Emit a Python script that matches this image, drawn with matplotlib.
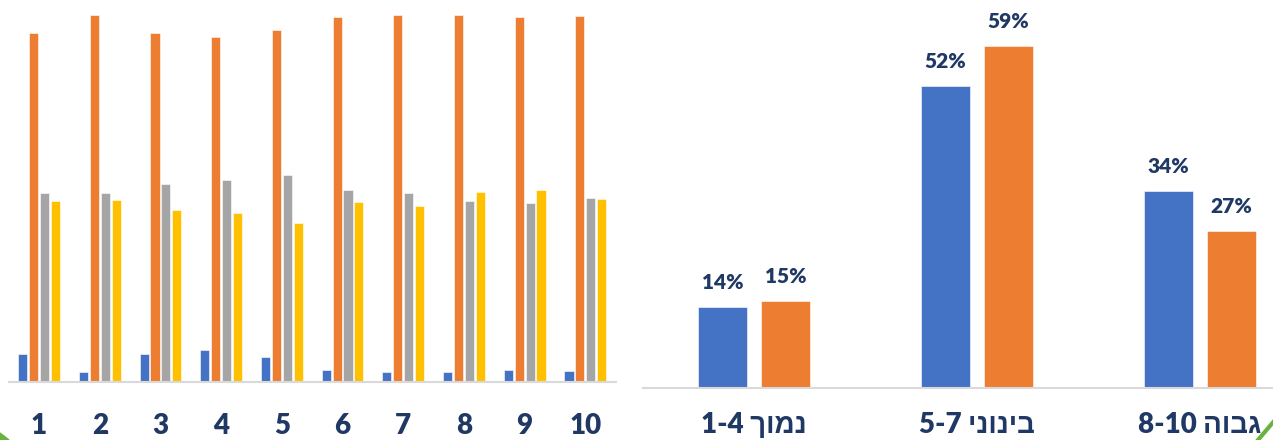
import numpy as np
import matplotlib.pyplot as plt
from matplotlib.patches import Polygon
from matplotlib.lines import Line2D

plt.rcParams['font.family'] = ['Lato', 'Liberation Sans', 'DejaVu Sans']

# left panel: scores 1-10, four series
scores = ['1', '2', '3', '4', '5', '6', '7', '8', '9', '10']
s_blue = [5.6, 2.0, 5.6, 6.4, 5.0, 2.4, 2.0, 2.0, 2.4, 2.2]
s_orange = [69.8, 73.4, 69.8, 69.0, 70.4, 73.0, 73.4, 73.4, 73.0, 73.2]
s_gray = [37.8, 37.8, 39.6, 40.4, 41.4, 38.4, 37.8, 36.2, 35.8, 36.8]
s_yellow = [36.2, 36.4, 34.4, 33.8, 31.8, 36.0, 35.2, 38.0, 38.4, 36.6]

# right panel: grouped ranges, two series (percent)
groups = ['נמוך 1-4', 'בינוני 5-7', 'גבוה 8-10']
g_blue = [14, 52, 34]
g_orange = [15, 59, 27]

BLUE = '#4472C4'
ORANGE = '#ED7D31'
GRAY = '#A5A5A5'
YELLOW = '#FFC000'
NAVY = '#1F3864'
AXIS = '#D9D9D9'


def visual_rtl(s):
    # matplotlib has no bidi support: put words in visual order
    out = []
    for w in s.split(' ')[::-1]:
        if any('\u0590' <= c <= '\u05FF' for c in w):
            w = w[::-1]
        out.append(w)
    return ' '.join(out)


def style_axis(ax, pad):
    for side in ['top', 'left', 'right']:
        ax.spines[side].set_visible(False)
    ax.spines['bottom'].set_color(AXIS)
    ax.spines['bottom'].set_linewidth(1.5)
    ax.set_yticks([])
    ax.tick_params(axis='x', length=0, pad=pad, labelsize=20, labelcolor=NAVY)
    for t in ax.get_xticklabels():
        t.set_fontweight('heavy')


W, H = 1273, 440
fig = plt.figure(figsize=(W / 100, H / 100), dpi=100)

# --- left chart ---
ax1 = fig.add_axes([8.7 / W, 58 / H, 607 / W, 382 / H])
x = np.arange(len(scores))
step, bw = 0.18, 0.15
for i, (vals, col) in enumerate([(s_blue, BLUE), (s_orange, ORANGE),
                                 (s_gray, GRAY), (s_yellow, YELLOW)]):
    ax1.bar(x + (i - 1.5) * step, vals, width=bw, color=col,
            edgecolor='white', linewidth=0.4)
ax1.set_xlim(-0.5, len(scores) - 0.5)
ax1.set_ylim(0, 76.4)
ax1.set_xticks(x)
ax1.set_xticklabels(scores)
style_axis(ax1, 22)

# --- right chart ---
ax2 = fig.add_axes([642.5 / W, 52 / H, 669 / W, 388 / H])
xg = np.arange(len(groups))
off, gw = 0.142, 0.222
b1 = ax2.bar(xg - off, g_blue, width=gw, color=BLUE, edgecolor='white', linewidth=0.4)
b2 = ax2.bar(xg + off, g_orange, width=gw, color=ORANGE, edgecolor='white', linewidth=0.4)
for bars, vals in [(b1, g_blue), (b2, g_orange)]:
    for r, v in zip(bars, vals):
        ax2.annotate(f'{v}%', (r.get_x() + r.get_width() / 2, v),
                     xytext=(0, 11), textcoords='offset points',
                     ha='center', va='bottom', fontsize=15,
                     fontweight='heavy', color=NAVY)
ax2.set_xlim(-0.5, len(groups) - 0.5)
ax2.set_ylim(0, 66.9)
ax2.set_xticks(xg)
ax2.set_xticklabels([visual_rtl(g) for g in groups])
style_axis(ax2, 17)

# slide decoration corners
fig.patches.append(Polygon([(0, 7 / H), (9 / W, 0), (0, 0)], closed=True,
                           transform=fig.transFigure, color='#6AB23E'))
fig.lines.append(Line2D([1258 / W, 1275 / W], [0, 20 / H], transform=fig.transFigure,
                        color='#6AB23E', linewidth=3))

fig.savefig('out.png', dpi=100)
